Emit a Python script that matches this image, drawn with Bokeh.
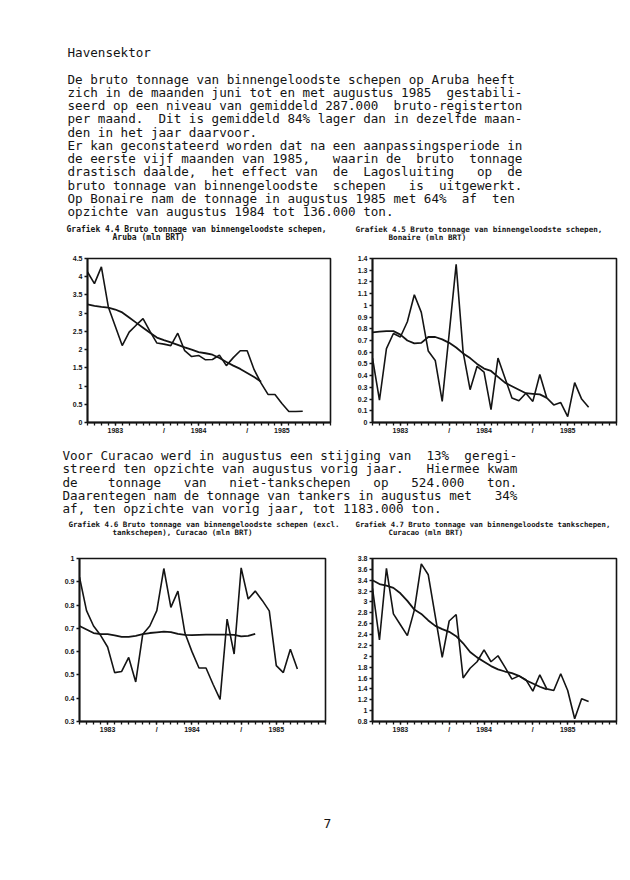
from bokeh.plotting import figure
from bokeh.layouts import column, row
from bokeh.models import Range1d, FixedTicker, NumeralTickFormatter
from bokeh.core.properties import value
from bokeh.embed import file_html
from bokeh.resources import INLINE

# ---------------- data (monthly, month index 0 = Sep 1982) ----------------
months = list(range(32))
trend_months = list(range(26))
year_tick_pos = [4, 11, 16, 23, 28]
year_tick_labels = ["1983", "/", "1984", "/", "1985"]

aruba = [4.13, 3.81, 4.27, 3.17, 2.64, 2.11, 2.48, 2.67, 2.85, 2.5, 2.18, 2.15,
         2.11, 2.45, 1.97, 1.81, 1.84, 1.72, 1.73, 1.85, 1.56, 1.78, 1.97, 1.97,
         1.45, 1.08, 0.77, 0.77, 0.52, 0.3, 0.3, 0.31]
aruba_trend = [3.24, 3.2, 3.17, 3.15, 3.1, 3.02, 2.88, 2.74, 2.6, 2.46, 2.33, 2.26,
               2.2, 2.13, 2.06, 2.0, 1.93, 1.9, 1.86, 1.77, 1.66, 1.56, 1.47, 1.36,
               1.25, 1.12]

bonaire = [0.55, 0.19, 0.63, 0.76, 0.73, 0.86, 1.09, 0.94, 0.61, 0.53, 0.18, 0.76,
           1.35, 0.6, 0.28, 0.48, 0.43, 0.11, 0.55, 0.38, 0.21, 0.185, 0.25, 0.18,
           0.41, 0.21, 0.15, 0.17, 0.05, 0.34, 0.2, 0.13]
bonaire_trend = [0.77, 0.775, 0.78, 0.78, 0.75, 0.7, 0.675, 0.68, 0.73, 0.73, 0.71,
                 0.68, 0.64, 0.59, 0.55, 0.5, 0.46, 0.44, 0.39, 0.34, 0.31, 0.28,
                 0.25, 0.245, 0.24, 0.21]

curacao_nt = [0.92, 0.776, 0.71, 0.67, 0.62, 0.51, 0.515, 0.575, 0.47, 0.675, 0.71,
              0.776, 0.957, 0.79, 0.86, 0.68, 0.6, 0.53, 0.53, 0.46, 0.395, 0.74,
              0.59, 0.96, 0.826, 0.86, 0.82, 0.775, 0.54, 0.51, 0.61, 0.525]
curacao_nt_trend = [0.71, 0.695, 0.68, 0.675, 0.675, 0.67, 0.663, 0.663, 0.668,
                    0.675, 0.68, 0.683, 0.686, 0.684, 0.676, 0.672, 0.671, 0.672,
                    0.673, 0.673, 0.673, 0.673, 0.672, 0.666, 0.668, 0.676]

curacao_t = [3.25, 2.3, 3.62, 2.78, 2.58, 2.38, 2.85, 3.7, 3.5, 2.74, 1.98, 2.65,
             2.77, 1.6, 1.78, 1.9, 2.12, 1.9, 2.01, 1.8, 1.58, 1.64, 1.57, 1.36,
             1.66, 1.4, 1.37, 1.68, 1.37, 0.85, 1.22, 1.17]
curacao_t_trend = [3.4, 3.33, 3.3, 3.26, 3.16, 3.02, 2.86, 2.78, 2.66, 2.56, 2.5,
                   2.45, 2.37, 2.24, 2.08, 1.98, 1.9, 1.82, 1.76, 1.72, 1.69, 1.64,
                   1.56, 1.5, 1.44, 1.39]

# ---------------- texts ----------------
heading = "Havensektor"
para1 = [
    "De bruto tonnage van binnengeloodste schepen op Aruba heeft",
    "zich in de maanden juni tot en met augustus 1985  gestabili-",
    "seerd op een niveau van gemiddeld 287.000  bruto-registerton",
    "per maand.  Dit is gemiddeld 84% lager dan in dezelfde maan-",
    "den in het jaar daarvoor.",
    "Er kan geconstateerd worden dat na een aanpassingsperiode in",
    "de eerste vijf maanden van 1985,   waarin de  bruto  tonnage",
    "drastisch daalde,  het effect van  de  Lagosluiting   op  de",
    "bruto tonnage van binnengeloodste  schepen   is  uitgewerkt.",
    "Op Bonaire nam de tonnage in augustus 1985 met 64%  af  ten",
    "opzichte van augustus 1984 tot 136.000 ton.",
]
para2 = [
    "Voor Curacao werd in augustus een stijging van  13%  geregi-",
    "streerd ten opzichte van augustus vorig jaar.   Hiermee kwam",
    "de    tonnage   van   niet-tankschepen   op   524.000   ton.",
    "Daarentegen nam de tonnage van tankers in augustus met   34%",
    "af, ten opzichte van vorig jaar, tot 1183.000 ton.",
]
title44 = ["Grafiek 4.4 Bruto tonnage van binnengeloodste schepen,", "Aruba (mln BRT)"]
title45 = ["Grafiek 4.5 Bruto tonnage van binnengeloodste schepen,", "Bonaire (mln BRT)"]
title46 = ["Grafiek 4.6 Bruto tonnage van binnengeloodste schepen (excl.",
           "tankschepen), Curacao (mln BRT)"]
title47 = ["Grafiek 4.7 Bruto tonnage van binnengeloodste tankschepen,", "Curacao (mln BRT)"]
page_number = "7"

INK = "#141414"
MONO = value("DejaVu Sans Mono")


def keep_spaces(lines):
    # typewriter spacing: keep every blank as a fixed-width non-breaking space
    return [s.replace(" ", "\u00a0") for s in lines]


def text_fig(h):
    p = figure(width=630, height=h, x_range=Range1d(0, 630), y_range=Range1d(h, 0),
               output_backend="svg", toolbar_location=None, min_border=0,
               x_axis_location=None, y_axis_location=None)
    p.grid.visible = False
    p.outline_line_color = None
    p.background_fill_color = "white"
    p.border_fill_color = "white"
    return p


def body(p, lines, x0, y0, step=13.25, size="12.6px"):
    p.text(x=[x0] * len(lines), y=[y0 + i * step for i in range(len(lines))],
           text=keep_spaces(lines), text_font=MONO, text_font_size=size,
           text_baseline="middle", text_color=INK)


def ctitle(p, lines, x1, x2, y1, size, step=8.2):
    p.text(x=[x1, x2], y=[y1, y1 + step], text=keep_spaces(lines), text_font=MONO,
           text_font_size=size, text_font_style="bold", text_baseline="middle",
           text_color=INK)


# top text block (0..245)
t1 = text_fig(245)
t1.text(x=[67], y=[52], text=[heading], text_font=MONO, text_font_size="12.6px",
        text_baseline="middle", text_color=INK)
body(t1, para1, 67, 78.5)
ctitle(t1, title44, 66, 112, 229, "8px")
ctitle(t1, title45, 355, 388, 229, "7.6px")

# middle text block (445..545)
t2 = text_fig(100)
body(t2, para2, 62, 455 - 445)
ctitle(t2, title46, 68, 112, 524 - 445, "7.5px")
ctitle(t2, title47, 355, 388, 524 - 445, "7.3px")

# bottom (745..880)
t3 = text_fig(135)
t3.text(x=[327], y=[823 - 745], text=[page_number], text_font=MONO, text_font_size="13px",
        text_baseline="middle", text_align="center", text_color=INK)


def chart(width, left, right, ymin, ymax, yticks, raw, trend, bottom=23):
    p = figure(width=width, height=200, x_range=Range1d(0, 35), y_range=Range1d(ymin, ymax),
               output_backend="svg", toolbar_location=None,
               min_border_left=left, min_border_right=right, min_border_top=13,
               min_border_bottom=bottom)
    p.grid.visible = False
    p.background_fill_color = "white"
    p.border_fill_color = "white"
    p.outline_line_color = INK
    p.outline_line_width = 1.6
    xa = p.xaxis[0]
    xa.ticker = FixedTicker(ticks=year_tick_pos, minor_ticks=list(range(0, 36)))
    xa.major_label_overrides = dict(zip(year_tick_pos, year_tick_labels))
    ya = p.yaxis[0]
    ya.ticker = FixedTicker(ticks=yticks)
    ya.formatter = NumeralTickFormatter(format="0.[0]")
    for ax in (xa, ya):
        ax.axis_line_color = INK
        ax.axis_line_width = 1.8
        ax.major_tick_line_color = INK
        ax.major_tick_line_width = 1.3
        ax.major_tick_in = 0
        ax.major_tick_out = 3
        ax.minor_tick_line_color = INK
        ax.minor_tick_line_width = 1.3
        ax.minor_tick_in = 0
        ax.minor_tick_out = 3
        ax.major_label_text_font = "Liberation Sans"
        ax.major_label_text_font_style = "bold"
        ax.major_label_text_font_size = "7px"
        ax.major_label_text_color = INK
        ax.major_label_standoff = 2
    ya.minor_tick_line_color = None
    xa.major_label_standoff = 1
    p.line(months[:len(raw)], raw, line_color=INK, line_width=1.6)
    p.line(trend_months[:len(trend)], trend, line_color=INK, line_width=1.8)
    return p


c44 = chart(345, 87, 15, 0, 4.5, [0, 0.5, 1, 1.5, 2, 2.5, 3, 3.5, 4, 4.5], aruba, aruba_trend)
c45 = chart(285, 27, 14, 0, 1.4, [i / 10 for i in range(15)], bonaire, bonaire_trend)
c46 = chart(345, 79, 20, 0.3, 1.0, [0.3, 0.4, 0.5, 0.6, 0.7, 0.8, 0.9, 1.0], curacao_nt,
            curacao_nt_trend, bottom=24)
c47 = chart(285, 27, 14, 0.8, 3.8, [0.8 + 0.2 * i for i in range(16)], curacao_t,
            curacao_t_trend, bottom=24)

layout = column(t1, row(c44, c45), t2, row(c46, c47), t3)
open("out.html", "w").write(file_html(layout, INLINE))
